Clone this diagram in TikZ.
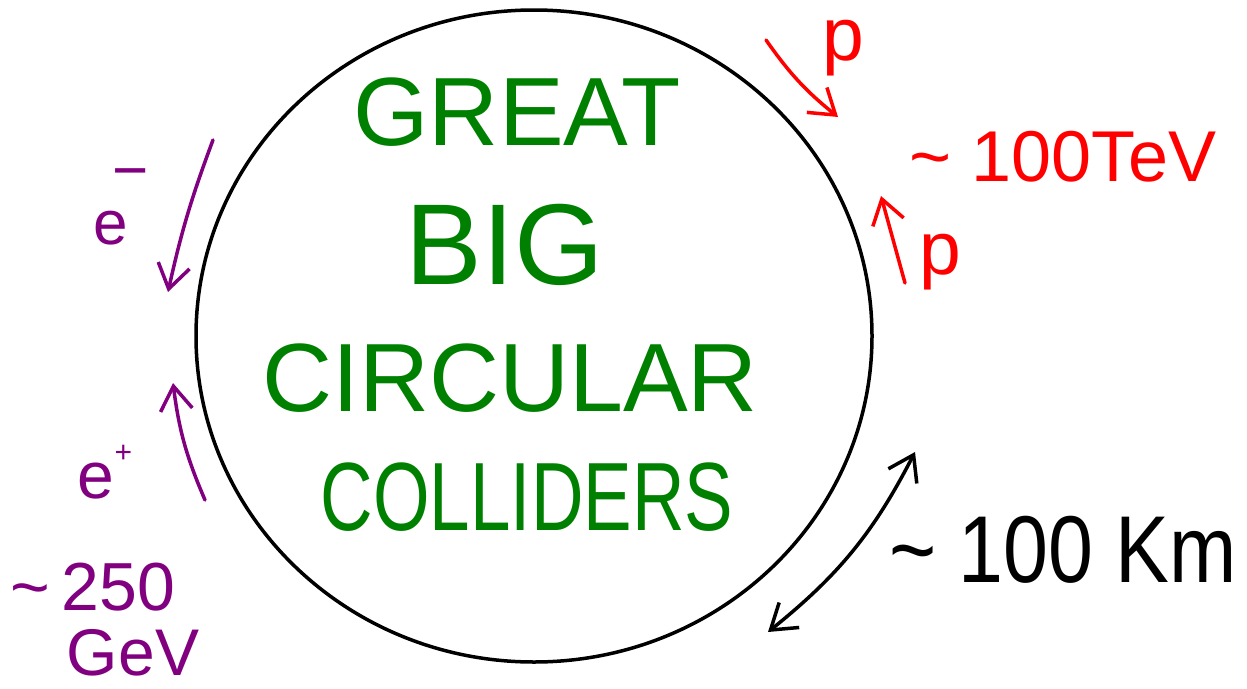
\documentclass[tikz,border=0pt]{standalone}
\usepackage{fontspec}
\setmainfont{Liberation Sans}
\usetikzlibrary{positioning,arrows.meta,shapes.geometric}
\definecolor{beamviolet}{RGB}{128,0,128}
\definecolor{leafgreen}{RGB}{0,128,0}

\begin{document}
\begin{tikzpicture}[x=1pt, y=-1pt,
    >={Straight Barb[length=24pt, width=32pt]},
    ring/.style={draw, ellipse, line width=3.5pt, minimum width=676pt, minimum height=652pt, inner sep=0pt},
    word/.style={text=leafgreen, font=\fontsize{97}{97}\selectfont, inner sep=0pt},
    lbl/.style={text=#1, inner sep=0pt},
    arr/.style={->, line width=3.5pt, draw=#1, line cap=round},
    darr/.style={<->, line width=3.5pt, draw=#1, line cap=round},
]
\useasboundingbox (0,0) rectangle (1247,688);

% --- the ring ---
\node[ring] (ring) at (534,336) {};

% --- title inside ---
\node[word] (great) at (517,112) {GREAT};
\node[word, font=\fontsize{115}{115}\selectfont] (big) at (505,245) {BIG};
\node[word] (circular) at (510,378) {CIRCULAR};
\node[word, xscale=0.75] (colliders) at (527,497) {COLLIDERS};

% --- proton beams ---
\node[lbl=red, font=\fontsize{75}{75}\selectfont] (pone) at (843,48) {p};
\node[lbl=red, font=\fontsize{75}{75}\selectfont] (ptwo) at (940,262) {p};
\node[lbl=red, font=\fontsize{72}{72}\selectfont] (tev) at (1063,157) {\textasciitilde\ 100TeV};
\coordinate (poneTail) at (766,40);
\coordinate (poneTip) at (838,117);
\coordinate (ptwoTail) at (905,283);
\coordinate (ptwoTip) at (881,196);
\draw[arr=red] (poneTail) to[bend right=8] (poneTip);
\draw[arr=red] (ptwoTail) -- (ptwoTip);

% --- electron beams ---
\node[lbl=beamviolet, font=\fontsize{62}{62}\selectfont] (eminus) at (121,207) {e\hspace{-0.25em}\raisebox{0.85em}{−}};
\node[lbl=beamviolet, font=\fontsize{66}{66}\selectfont] (eplus) at (105,472) {e\raisebox{0.55em}{\fontsize{30}{30}\selectfont +}};
\node[lbl=beamviolet, font=\fontsize{68}{68}\selectfont] (gevnum) at (93,587) {\textasciitilde\,250};
\node[lbl=beamviolet, font=\fontsize{66}{66}\selectfont] (gevunit) at (133,653) {GeV};
\coordinate (eminusTail) at (213,140);
\coordinate (eminusTip) at (168,292);
\coordinate (eplusTail) at (205,500);
\coordinate (eplusTip) at (173,383);
\draw[arr=beamviolet] (eminusTail) to[bend right=4] (eminusTip);
\draw[arr=beamviolet] (eplusTail) to[bend left=8] (eplusTip);

% --- size ---
\coordinate (sizeTop) at (915,452);
\coordinate (sizeBot) at (768,632);
\draw[darr=black] (sizeTop) to[bend left=12] (sizeBot);
\node[lbl=black, font=\fontsize{95}{95}\selectfont, xscale=0.85] (km) at (1063,550) {\textasciitilde\ 100 Km};

\end{tikzpicture}
\end{document}
